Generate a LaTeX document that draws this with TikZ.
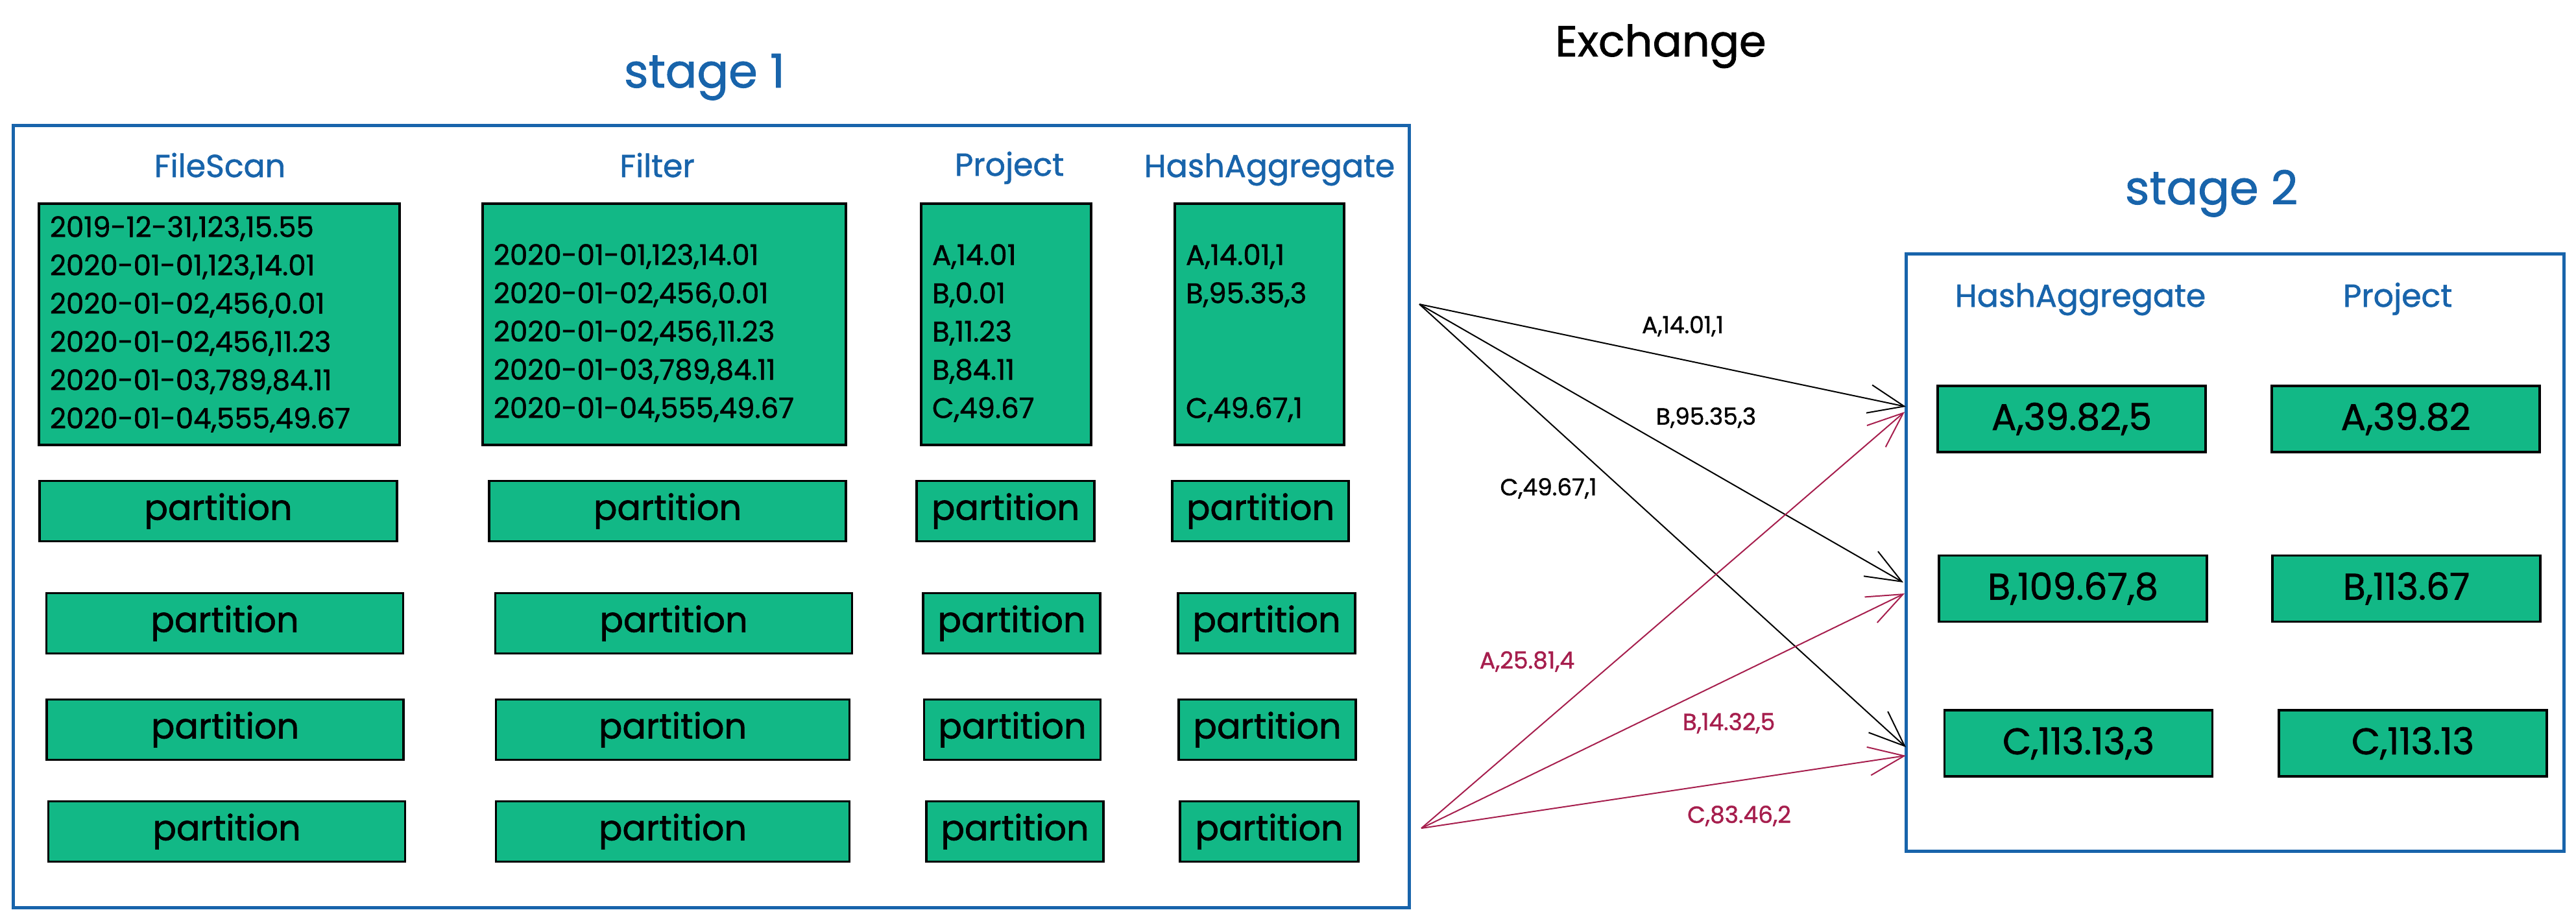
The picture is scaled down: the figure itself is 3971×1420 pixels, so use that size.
\documentclass[tikz,border=0pt]{standalone}
\usepackage{fontspec}
\setmainfont{Poppins}[FakeBold=1.2]
\usetikzlibrary{arrows.meta}
\definecolor{sblue}{HTML}{1864AB}
\definecolor{cellgreen}{HTML}{12B886}
\definecolor{xpink}{HTML}{A61E4D}
\newcommand\xdatafont{\fontsize{43.5}{59}\selectfont}
\newcommand\xpartfont{\fontsize{54}{60}\selectfont}
\newcommand\xheadfont{\fontsize{49}{56}\selectfont}
\newcommand\xstagefont{\fontsize{72}{80}\selectfont}
\newcommand\xexfont{\fontsize{67}{74}\selectfont}
\newcommand\xlabelfont{\fontsize{36}{42}\selectfont}
\newcommand\xcellfont{\fontsize{57}{64}\selectfont}
\tikzset{
  cell/.style={draw=black, line width=3.5pt, fill=cellgreen, inner sep=0pt, anchor=center, text=black},
  datacell/.style={cell, align=left, font=\xdatafont, inner xsep=17pt, minimum height=372pt},
  partcell/.style={cell, font=\xpartfont, minimum height=93pt},
  outcell/.style={cell, font=\xcellfont, minimum height=102pt, minimum width=413pt},
  header/.style={text=sblue, font=\xheadfont, inner sep=0pt, anchor=base},
  stagetitle/.style={text=sblue, font=\xstagefont, inner sep=0pt, anchor=base},
  extitle/.style={text=black, font=\xexfont, inner sep=0pt, anchor=base},
  stagebox/.style={draw=sblue, line width=5pt, inner sep=0pt},
  flowk/.style={draw=black, line width=2pt, -{Straight Barb[length=55pt, width=44pt, line width=2pt]}},
  flowr/.style={draw=xpink, line width=2pt, -{Straight Barb[length=55pt, width=44pt, line width=2pt]}},
  lblk/.style={text=black, font=\xlabelfont, inner sep=0pt},
  lblr/.style={text=xpink, font=\xlabelfont, inner sep=0pt},
}
\begin{document}
\begin{tikzpicture}[x=1pt,y=-1pt]
\useasboundingbox (0,0) rectangle (3971,1420);
% stage frames
\node[stagebox, minimum width=2152pt, minimum height=1205pt] (stageonebox) at (1096,796.5) {};
\node[stagebox, minimum width=1014pt, minimum height=921pt] (stagetwobox) at (3445,851.5) {};
% titles
\node[stagetitle] (stageone) at (1086,135) {stage 1};
\node[stagetitle] (stagetwo) at (3409,315) {stage 2};
\node[extitle] (exchange) at (2560,87) {Exchange};
% stage 1 headers
\node[header] (hfs) at (339,273) {FileScan};
\node[header] (hfl) at (1013,273) {Filter};
\node[header] (hpj) at (1556,271) {Project};
\node[header] (hha) at (1957,273) {HashAggregate};
% stage 1 data
\node[datacell, text width=522pt] (dfs) at (338,500) {2019-12-31,123,15.55\\2020-01-01,123,14.01\\2020-01-02,456,0.01\\2020-01-02,456,11.23\\2020-01-03,789,84.11\\2020-01-04,555,49.67};
\node[datacell, text width=526pt] (dfl) at (1024,500) {\mbox{}\\2020-01-01,123,14.01\\2020-01-02,456,0.01\\2020-01-02,456,11.23\\2020-01-03,789,84.11\\2020-01-04,555,49.67};
\node[datacell, text width=228pt] (dpj) at (1551,500) {\mbox{}\\A,14.01\\B,0.01\\B,11.23\\B,84.11\\C,49.67};
\node[datacell, text width=227pt] (dha) at (1941.5,500) {\mbox{}\\A,14.01,1\\B,95.35,3\\\mbox{}\\\mbox{}\\C,49.67,1};
% partitions
\node[partcell, minimum width=551pt] (pfsa) at (336.5,788) {partition};
\node[partcell, minimum width=550pt] (pfsb) at (346.5,961) {partition};
\node[partcell, minimum width=550pt] (pfsc) at (347,1125) {partition};
\node[partcell, minimum width=550pt] (pfsd) at (349.5,1282) {partition};
\node[partcell, minimum width=550pt] (pfla) at (1029,788) {partition};
\node[partcell, minimum width=550pt] (pflb) at (1038.5,961) {partition};
\node[partcell, minimum width=545pt] (pflc) at (1037,1125) {partition};
\node[partcell, minimum width=545pt] (pfld) at (1037,1282) {partition};
\node[partcell, minimum width=274pt] (ppja) at (1550,788) {partition};
\node[partcell, minimum width=273pt] (ppjb) at (1559.5,961) {partition};
\node[partcell, minimum width=272pt] (ppjc) at (1560.5,1125) {partition};
\node[partcell, minimum width=273pt] (ppjd) at (1564.5,1282) {partition};
\node[partcell, minimum width=272pt] (phaa) at (1943,788) {partition};
\node[partcell, minimum width=273pt] (phab) at (1952.5,961) {partition};
\node[partcell, minimum width=273pt] (phac) at (1953.5,1125) {partition};
\node[partcell, minimum width=275pt] (phad) at (1956.5,1282) {partition};
% stage 2 headers
\node[header] (hhb) at (3207,473) {HashAggregate};
\node[header] (hpb) at (3696,473) {Project};
% stage 2 cells
\node[outcell] (oha) at (3193.5,646) {A,39.82,5};
\node[outcell] (ohb) at (3195.5,907.5) {B,109.67,8};
\node[outcell] (ohc) at (3204,1146) {C,113.13,3};
\node[outcell] (opa) at (3708.5,646) {A,39.82};
\node[outcell] (opb) at (3709.5,907.5) {B,113.67};
\node[outcell] (opc) at (3719.5,1146) {C,113.13};
% exchange arrows
\coordinate (srck) at (2188,469);
\coordinate (srcr) at (2191,1277);
\coordinate (tka) at (2938,627);
\coordinate (tkb) at (2934,898);
\coordinate (tkc) at (2938,1152);
\coordinate (tra) at (2936,635);
\coordinate (trb) at (2936,915);
\coordinate (trc) at (2938,1165);
\draw[flowk] (srck) -- (tka);
\draw[flowk] (srck) -- (tkb);
\draw[flowk] (srck) -- (tkc);
\draw[flowr] (srcr) -- (tra);
\draw[flowr] (srcr) -- (trb);
\draw[flowr] (srcr) -- (trc);
\node[lblk] (lka) at (2594,503) {A,14.01,1};
\node[lblk] (lkb) at (2630,644) {B,95.35,3};
\node[lblk] (lkc) at (2387,753) {C,49.67,1};
\node[lblr] (lra) at (2354,1020) {A,25.81,4};
\node[lblr] (lrb) at (2665,1115) {B,14.32,5};
\node[lblr] (lrc) at (2681,1258) {C,83.46,2};
\end{tikzpicture}
\end{document}
